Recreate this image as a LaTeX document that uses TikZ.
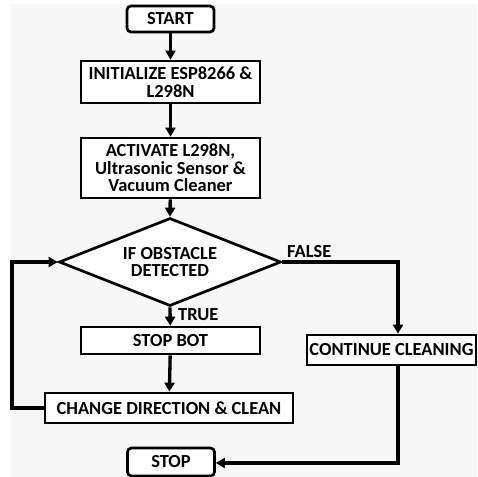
\documentclass[tikz,border=0pt]{standalone}
\usepackage{fontspec}
\setmainfont{Carlito}
\usetikzlibrary{shapes.geometric,arrows.meta}
\begin{document}
\begin{tikzpicture}[x=1bp,y=-1bp,
  every node/.style={font=\fontsize{18.5}{17.5}\selectfont\bfseries, align=center},
  boxnode/.style={draw=black, line width=2.7bp, fill=white, inner sep=0pt},
  termnode/.style={boxnode, rounded corners=4bp},
  conn/.style={line width=3.3bp, -{Triangle[width=10bp,length=9bp]}},
  plain/.style={line width=3.3bp}
]
\fill[white] (0,0) rectangle (477,477);
\fill[black!3] (11,4) rectangle (477,477);
\useasboundingbox (0,0) rectangle (477,477);

\node[termnode, minimum width=87bp, minimum height=26bp] (start) at (170.5,19) {START};
\node[boxnode, minimum width=179bp, minimum height=42bp] (init) at (170.5,82) {INITIALIZE ESP8266 \&\\L298N};
\node[boxnode, minimum width=179bp, minimum height=60bp] (act) at (170.5,168) {ACTIVATE L298N,\\Ultrasonic Sensor \&\\Vacuum Cleaner};
\node[diamond, draw=black, line width=2.7bp, fill=white, inner sep=0pt, minimum width=222bp, minimum height=88bp] (dec) at (170,262) {};
\node (dect) at (170,262) {IF OBSTACLE\\DETECTED};
\node[boxnode, minimum width=179bp, minimum height=27bp] (stopbot) at (170.5,340.5) {STOP BOT};
\node[boxnode, minimum width=248bp, minimum height=30bp] (chg) at (169,408) {CHANGE DIRECTION \& CLEAN};
\node[boxnode, minimum width=169bp, minimum height=30bp] (cont) at (391.5,350) {CONTINUE CLEANING};
\node[termnode, minimum width=87bp, minimum height=28bp] (stop) at (171,462) {STOP};

\node[anchor=west, inner sep=0pt] (truel) at (178,315) {TRUE};
\node[anchor=west, inner sep=0pt] (falsel) at (287,252) {FALSE};

\coordinate (l1) at (12,408);
\coordinate (l2) at (12,262);
\coordinate (r1) at (398,262);
\coordinate (r2) at (398,463);

\draw[conn] (start) -- (init);
\draw[conn] (init) -- (act);
\draw[conn] (act) -- (dec.north);
\draw[conn] (dec.south) -- (stopbot);
\draw[conn] (stopbot) -- (chg);
\draw[conn] (chg.west) -- (l1) -- (l2) -- (dec.west);
\draw[conn] (dec.east) -- (r1) -- (cont.north -| r1);
\draw[conn] (cont.south -| r2) -- (r2) -- (stop.east |- r2);
\end{tikzpicture}
\end{document}
